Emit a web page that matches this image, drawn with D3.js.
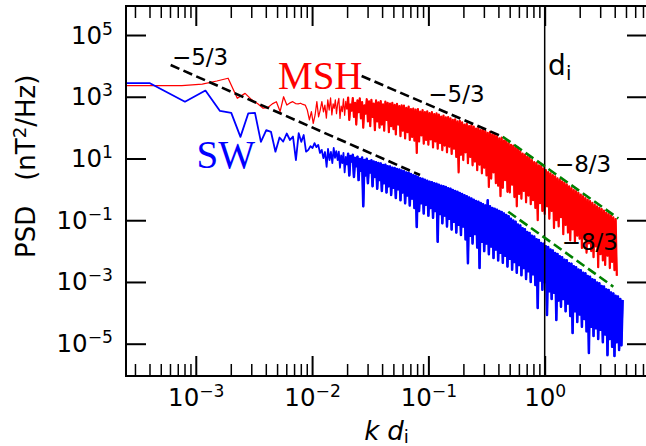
<!DOCTYPE html>
<html>
<head>
<meta charset="utf-8">
<script src="https://cdn.jsdelivr.net/npm/d3@7"></script>
<style>
  body { margin: 0; background: #fff; }
  svg { display: block; }
</style>
</head>
<body>
<svg id="chart" width="646" height="446"></svg>
<script>
// Magnetic-field power spectra, stored as [log10(k d_i), log10(PSD / nT^2 Hz^-1)].
// The first entry of each series is the k = 0 bin, which sits left of the axis.
const mshSpectrum = [
  [-3.80,3.36],[-3.421,3.36],[-3.120,3.36],[-2.944,3.41],[-2.819,3.51],[-2.722,3.60],[-2.643,2.95],[-2.576,3.11],
  [-2.518,2.90],[-2.467,2.77],[-2.421,2.63],[-2.380,2.65],[-2.342,2.77],[-2.307,2.84],[-2.275,2.52],[-2.245,3.00],
  [-2.217,2.73],[-2.191,2.80],[-2.166,2.84],[-2.142,2.78],[-2.120,2.77],[-2.099,2.79],[-2.079,2.75],[-2.059,2.73],
  [-2.041,2.57],[-2.023,2.25],[-2.006,2.52],[-1.990,2.14],[-1.974,2.41],[-1.959,2.84],[-1.944,2.35],[-1.930,2.57],
  [-1.916,2.84],[-1.902,2.51],[-1.890,2.73],[-1.877,2.31],[-1.865,2.90],[-1.853,2.57],[-1.841,2.96],[-1.830,2.41],
  [-1.819,2.77],
  [-1.81,2.62],[-1.80,2.90],[-1.79,2.45],[-1.78,2.78],[-1.77,2.95],[-1.76,2.30],[-1.75,2.70],[-1.74,2.52],[-1.73,2.93],[-1.72,2.40],
  [-1.71,2.85],[-1.70,2.60],[-1.69,2.97],[-1.68,2.25],[-1.67,2.75],[-1.66,2.55],[-1.65,2.96],[-1.64,2.35],[-1.63,2.80],[-1.62,2.10],
  [-1.61,2.88],[-1.60,2.50],[-1.59,2.95],[-1.58,2.30],[-1.57,2.83],[-1.56,2.00],[-1.55,2.72],[-1.54,2.45],[-1.53,2.92],[-1.52,2.20],
  [-1.51,2.85],[-1.50,2.05],[-1.49,2.90],[-1.48,2.35],[-1.47,2.78],[-1.46,1.92],[-1.45,2.88],[-1.44,2.20],[-1.43,2.82],[-1.42,2.00],
  [-1.41,2.86],[-1.40,2.10],[-1.39,2.75],[-1.38,1.90],[-1.37,2.84],[-1.36,2.25],[-1.35,2.80],[-1.34,1.85],[-1.33,2.78],[-1.32,2.05],
  [-1.31,2.80],[-1.30,1.95],[-1.29,2.74],[-1.28,1.78],[-1.27,2.77],[-1.26,2.10],[-1.25,2.70],[-1.24,1.72],[-1.23,2.72],[-1.22,1.90],
  [-1.21,2.71],[-1.20,1.65],[-1.19,2.64],[-1.18,1.85],[-1.17,2.68],[-1.16,1.60],[-1.15,2.60],[-1.14,1.70],[-1.13,2.62],[-1.12,1.58],
  [-1.11,2.58],[-1.10,1.18],[-1.09,2.60],[-1.08,1.55],[-1.07,2.52],[-1.06,1.75],[-1.05,2.57],[-1.04,1.48],[-1.03,2.50],[-1.02,1.60],
  [-1.01,2.53],[-1.00,1.45],[-0.99,2.47],[-0.98,1.62],[-0.97,2.50],[-0.96,1.36],[-0.95,2.44],[-0.94,1.55],[-0.93,2.46],[-0.92,1.32],
  [-0.91,2.42],[-0.90,1.50],[-0.89,2.36],[-0.88,1.27],[-0.87,2.39],[-0.86,1.42],[-0.85,2.33],[-0.84,1.20],[-0.83,2.34],[-0.82,1.38],
  [-0.81,2.30],[-0.80,1.15],[-0.79,2.25],[-0.78,1.32],[-0.77,2.27],[-0.76,1.05],[-0.75,2.20],[-0.74,0.55],[-0.73,2.22],[-0.72,1.12],
  [-0.71,2.17],[-0.70,0.95],[-0.69,2.10],[-0.68,1.20],[-0.67,2.13],[-0.66,0.85],[-0.65,2.05],[-0.64,1.05],[-0.63,2.08],[-0.62,0.78],
  [-0.61,2.03],[-0.60,0.90],[-0.59,1.97],[-0.58,0.62],[-0.57,2.00],[-0.56,0.80],[-0.55,1.92],[-0.54,0.52],[-0.53,1.95],[-0.52,0.70],
  [-0.51,1.89],[-0.50,0.45],[-0.49,1.83],[-0.48,0.08],[-0.47,1.86],[-0.46,0.35],[-0.45,1.78],[-0.44,0.55],[-0.43,1.80],[-0.42,0.20],
  [-0.41,1.72],[-0.40,0.12],[-0.39,1.65],[-0.38,-0.22],[-0.37,1.68],[-0.36,0.05],[-0.35,1.58],[-0.34,0.30],[-0.33,1.60],[-0.32,-0.08],
  [-0.31,1.50],[-0.30,-0.10],[-0.29,1.44],[-0.28,0.15],[-0.27,1.42],[-0.26,-0.25],[-0.25,1.36],[-0.24,-0.55],[-0.23,1.35],[-0.22,-0.15],
  [-0.21,1.24],[-0.20,-0.30],[-0.19,1.16],[-0.18,-0.05],[-0.17,1.13],[-0.16,-0.42],[-0.15,1.06],[-0.14,-0.20],[-0.13,1.04],[-0.12,-0.48],
  [-0.11,0.95],[-0.10,-0.35],[-0.09,0.88],[-0.08,-0.60],[-0.07,0.86],[-0.06,-1.00],[-0.05,0.78],[-0.04,-0.45],[-0.03,0.76],[-0.02,-0.70],
  [-0.01,0.68],[0.00,-0.80],[0.01,0.62],[0.02,-0.55],[0.03,0.56],[0.04,-0.95],[0.05,0.52],[0.06,-0.70],[0.07,0.46],[0.08,-1.25],
  [0.09,0.42],[0.10,-1.00],[0.11,0.36],[0.12,-1.20],[0.13,0.32],[0.14,-0.90],[0.15,0.26],[0.16,-1.45],[0.17,0.22],[0.18,-1.15],
  [0.19,0.16],[0.20,-1.40],[0.21,0.10],[0.22,-1.65],[0.23,0.04],[0.24,-1.30],[0.25,-0.02],[0.26,-1.72],[0.27,-0.06],[0.28,-1.50],
  [0.29,-0.11],[0.30,-1.60],[0.31,-0.17],[0.32,-1.90],[0.33,-0.22],[0.34,-1.55],[0.35,-0.28],[0.36,-2.05],[0.37,-0.33],[0.38,-1.75],
  [0.39,-0.38],[0.40,-2.00],[0.41,-0.44],[0.42,-2.20],[0.43,-0.49],[0.44,-1.85],[0.45,-0.55],[0.46,-2.52],[0.47,-0.60],[0.48,-2.10],
  [0.49,-0.64],[0.50,-2.30],[0.51,-0.69],[0.52,-2.45],[0.53,-0.75],[0.54,-2.15],[0.55,-0.80],[0.56,-2.55],[0.57,-0.84],[0.58,-2.35],
  [0.59,-0.91],[0.60,-2.62],[0.61,-0.96],[0.62,-2.80]
];

const swSpectrum = [
  [-3.80,3.44],[-3.394,3.44],[-3.093,2.84],[-2.917,3.20],[-2.792,2.54],[-2.695,2.48],[-2.616,1.70],[-2.549,2.46],
  [-2.491,2.48],[-2.440,1.54],[-2.394,1.92],[-2.353,1.86],[-2.315,1.22],[-2.280,1.68],[-2.248,1.55],[-2.218,1.81],
  [-2.190,1.60],[-2.164,1.71],[-2.139,0.95],[-2.115,1.82],[-2.093,1.54],[-2.072,1.76],[-2.052,1.22],[-2.032,1.28],
  [-2.014,1.40],[-1.996,1.34],[-1.979,1.50],[-1.963,1.37],[-1.947,1.44],[-1.932,1.18],[-1.917,1.28],[-1.903,1.01],
  [-1.889,1.21],[-1.875,0.73],[-1.863,1.31],[-1.850,0.95],[-1.838,1.21],[-1.826,0.85],[-1.814,1.34],[-1.803,1.02],
  [-1.792,1.24],
  [-1.78,0.95],[-1.77,1.22],[-1.76,0.70],[-1.75,1.10],[-1.74,0.85],[-1.73,1.18],[-1.72,0.55],[-1.71,1.05],[-1.70,0.80],[-1.69,1.15],
  [-1.68,0.45],[-1.67,1.08],[-1.66,0.90],[-1.65,1.12],[-1.64,0.40],[-1.63,1.02],[-1.62,0.75],[-1.61,1.06],[-1.60,0.30],[-1.59,0.98],
  [-1.58,0.60],[-1.57,1.03],[-1.56,-0.55],[-1.55,0.95],[-1.54,0.45],[-1.53,0.99],[-1.52,0.20],[-1.51,0.92],[-1.50,0.55],[-1.49,0.94],
  [-1.48,0.10],[-1.47,0.90],[-1.46,0.40],[-1.45,0.88],[-1.44,0.02],[-1.43,0.85],[-1.42,0.30],[-1.41,0.84],[-1.40,-0.05],[-1.39,0.79],
  [-1.38,0.20],[-1.37,0.80],[-1.36,-0.10],[-1.35,0.75],[-1.34,0.10],[-1.33,0.74],[-1.32,-0.18],[-1.31,0.70],[-1.30,0.05],[-1.29,0.69],
  [-1.28,-0.28],[-1.27,0.66],[-1.26,0.00],[-1.25,0.64],[-1.24,-0.35],[-1.23,0.61],[-1.22,-0.10],[-1.21,0.59],[-1.20,-0.45],[-1.19,0.55],
  [-1.18,-0.20],[-1.17,0.54],[-1.16,-0.52],[-1.15,0.50],[-1.14,-0.30],[-1.13,0.46],[-1.12,-0.60],[-1.11,0.44],[-1.10,-1.22],[-1.09,0.40],
  [-1.08,-0.70],[-1.07,0.36],[-1.06,-0.45],[-1.05,0.34],[-1.04,-0.78],[-1.03,0.31],[-1.02,-0.50],[-1.01,0.28],[-1.00,-0.85],[-0.99,0.25],
  [-0.98,-0.60],[-0.97,0.23],[-0.96,-0.92],[-0.95,0.20],[-0.94,-0.70],[-0.93,0.18],[-0.92,-1.70],[-0.91,0.15],[-0.90,-0.80],[-0.89,0.12],
  [-0.88,-1.10],[-0.87,0.10],[-0.86,-0.85],[-0.85,0.08],[-0.84,-1.20],[-0.83,0.04],[-0.82,-0.95],[-0.81,0.02],[-0.80,-1.30],[-0.79,-0.02],
  [-0.78,-1.05],[-0.77,-0.05],[-0.76,-1.40],[-0.75,-0.08],[-0.74,-1.15],[-0.73,-0.12],[-0.72,-1.48],[-0.71,-0.15],[-0.70,-1.20],[-0.69,-0.19],
  [-0.68,-1.62],[-0.67,-0.22],[-0.66,-2.39],[-0.65,-0.26],[-0.64,-1.50],[-0.63,-0.30],[-0.62,-1.75],[-0.61,-0.34],[-0.60,-1.45],[-0.59,-0.38],
  [-0.58,-1.88],[-0.57,-0.40],[-0.56,-2.55],[-0.55,-0.44],[-0.54,-1.70],[-0.53,-0.48],[-0.52,-2.00],[-0.51,-0.52],[-0.50,-1.75],[-0.49,-0.35],
  [-0.48,-2.10],[-0.47,-0.55],[-0.46,-1.85],[-0.45,-0.60],[-0.44,-2.22],[-0.43,-0.63],[-0.42,-1.95],[-0.41,-0.66],[-0.40,-2.30],[-0.39,-0.70],
  [-0.38,-2.05],[-0.37,-0.73],[-0.36,-2.38],[-0.35,-0.78],[-0.34,-2.15],[-0.33,-0.83],[-0.32,-2.50],[-0.31,-0.87],[-0.30,-2.25],[-0.29,-0.95],
  [-0.28,-2.60],[-0.27,-1.01],[-0.26,-2.35],[-0.25,-1.05],[-0.24,-2.70],[-0.23,-1.14],[-0.22,-2.45],[-0.21,-1.17],[-0.20,-2.78],[-0.19,-1.26],
  [-0.18,-2.55],[-0.17,-1.29],[-0.16,-2.90],[-0.15,-1.38],[-0.14,-2.65],[-0.13,-1.41],[-0.12,-3.00],[-0.11,-1.50],[-0.10,-2.75],[-0.09,-1.53],
  [-0.08,-3.10],[-0.07,-1.62],[-0.06,-3.84],[-0.05,-1.64],[-0.04,-2.95],[-0.03,-1.74],[-0.02,-3.25],[-0.01,-1.76],[0.00,-3.00],[0.01,-1.84],
  [0.02,-4.07],[0.03,-1.87],[0.04,-3.30],[0.05,-1.95],[0.06,-3.55],[0.07,-1.98],[0.08,-3.35],[0.09,-2.06],[0.10,-4.23],[0.11,-2.09],
  [0.12,-3.60],[0.13,-2.17],[0.14,-3.80],[0.15,-2.20],[0.16,-3.55],[0.17,-2.28],[0.18,-3.95],[0.19,-2.30],[0.20,-3.70],[0.21,-2.39],
  [0.22,-4.10],[0.23,-2.41],[0.24,-4.65],[0.25,-2.49],[0.26,-3.95],[0.27,-2.52],[0.28,-4.30],[0.29,-2.60],[0.30,-4.05],[0.31,-2.62],
  [0.32,-4.45],[0.33,-2.70],[0.34,-4.20],[0.35,-2.72],[0.36,-4.60],[0.37,-2.81],[0.38,-5.30],[0.39,-2.83],[0.40,-4.45],[0.41,-2.91],
  [0.42,-4.75],[0.43,-2.94],[0.44,-4.50],[0.45,-3.02],[0.46,-4.85],[0.47,-3.04],[0.48,-4.55],[0.49,-3.13],[0.50,-4.95],[0.51,-3.15],
  [0.52,-4.70],[0.53,-3.24],[0.54,-5.37],[0.55,-3.26],[0.56,-4.85],[0.57,-3.34],[0.58,-5.10],[0.59,-3.37],[0.60,-5.40],[0.61,-3.45],
  [0.62,-4.95],[0.63,-3.47],[0.64,-5.20],[0.65,-3.55],[0.66,-5.05],[0.67,-3.58]
];

// Power-law guides, endpoints as [k d_i, PSD]
const mshInertialFit = [[0.02667, 4699], [0.4355, 50.8]];     // slope -5/3
const mshKineticFit  = [[0.4355, 50.8], [4.295, 0.1153]];     // slope -8/3
const swInertialFit  = [[6.08e-4, 10666], [0.0847, 2.92]];    // slope -5/3
const swKineticFit   = [[0.486, 0.189], [3.89, 7.03e-4]];     // slope -8/3

// Slope annotations anchored at [k d_i, PSD]
const slopeLabels = ["−5/3", "−5/3", "−8/3", "−8/3"];
const slopeLabelAnchors = [[6.24e-4, 10666], [0.0998, 692], [1.226, 3.73], [1.40, 0.0108]];

// Region names and their anchors
const regionNames = ["MSH", "SW"];
const regionAnchors = [[5.09e-3, 1718], [1.014e-3, 4.81]];
const regionColors = ["#ff0000", "#0000ff"];

// Ion inertial length marker
const ionScaleK = 1;
const ionScaleAnchor = [1.07, 5058];

// Axes
const xDomain = [2.512e-4, 7.58];
const yDomain = [8.99e-7, 8.71e5];
const xMajorTicks = [1e-3, 1e-2, 1e-1, 1];
const xTickExponents = ["−3", "−2", "−1", "0"];
const yMajorTicks = [1e5, 1e3, 1e1, 1e-1, 1e-3, 1e-5];
const yTickExponents = ["5", "3", "1", "−1", "−3", "−5"];

const plot = { left: 126, right: 647, top: 6, bottom: 376 };
const sans = "'DejaVu Sans', sans-serif";

const svg = d3.select("#chart");
const x = d3.scaleLog().domain(xDomain).range([plot.left, plot.right]);
const y = d3.scaleLog().domain(yDomain).range([plot.bottom, plot.top]);

svg.append("defs").append("clipPath").attr("id", "plotArea")
  .append("rect")
  .attr("x", plot.left).attr("y", plot.top)
  .attr("width", plot.right - plot.left).attr("height", plot.bottom - plot.top);

const layer = svg.append("g").attr("clip-path", "url(#plotArea)");

// Spectra: the full trace with a thin pen, then the densely sampled
// high-k part again with a wider pen so that it reads as a solid band.
const spectrumLine = d3.line().x(d => x(10 ** d[0])).y(d => y(10 ** d[1]));
const denseFrom = -1.7;
function drawSpectrum(series, color, thin, wide) {
  layer.append("path").datum(series)
    .attr("d", spectrumLine).attr("fill", "none")
    .attr("stroke", color).attr("stroke-width", thin)
    .attr("stroke-linejoin", "round");
  layer.append("path").datum(series.filter(d => d[0] >= denseFrom))
    .attr("d", spectrumLine).attr("fill", "none")
    .attr("stroke", color).attr("stroke-width", wide)
    .attr("stroke-linejoin", "round");
}
drawSpectrum(mshSpectrum, regionColors[0], 1.25, 2.2);
drawSpectrum(swSpectrum, regionColors[1], 1.8, 2.5);

// k d_i = 1
layer.append("line")
  .attr("x1", x(ionScaleK)).attr("x2", x(ionScaleK))
  .attr("y1", plot.top).attr("y2", plot.bottom)
  .attr("stroke", "#000").attr("stroke-width", 1.5);

// Fit guides
const fitLine = d3.line().x(d => x(d[0])).y(d => y(d[1]));
[[mshInertialFit, "#000"], [swInertialFit, "#000"], [mshKineticFit, "#008000"], [swKineticFit, "#008000"]]
  .forEach(([pts, color]) => {
    layer.append("path").datum(pts)
      .attr("d", fitLine).attr("fill", "none")
      .attr("stroke", color).attr("stroke-width", 2.6)
      .attr("stroke-dasharray", "9.5,4.5");
  });

// Slope annotations
slopeLabels.forEach((txt, i) => {
  svg.append("text")
    .attr("x", x(slopeLabelAnchors[i][0])).attr("y", y(slopeLabelAnchors[i][1]))
    .attr("font-family", sans).attr("font-size", 23).attr("fill", "#000")
    .text(txt);
});

// Region names
regionNames.forEach((txt, i) => {
  svg.append("text")
    .attr("x", x(regionAnchors[i][0])).attr("y", y(regionAnchors[i][1]))
    .attr("font-family", "'Liberation Serif', 'Times New Roman', serif")
    .attr("font-size", 39).attr("fill", regionColors[i])
    .text(txt);
});

// d_i marker label
const diLabel = svg.append("text")
  .attr("x", x(ionScaleAnchor[0])).attr("y", y(ionScaleAnchor[1]))
  .attr("font-family", sans).attr("font-size", 28).attr("fill", "#000");
diLabel.append("tspan").text("d");
diLabel.append("tspan").attr("dy", 5).attr("font-size", "0.7em").text("i");

// Axes: ticks point inward on all four sides
function styleAxis(g, width) {
  g.select(".domain").remove();
  g.selectAll(".tick line").attr("stroke", "#000").attr("stroke-width", width);
  g.attr("font-family", sans);
}

const xMinorTicks = x.ticks().filter(t => {
  const e = Math.log10(t);
  return Math.abs(e - Math.round(e)) > 1e-6 && t >= xDomain[0] && t <= xDomain[1];
});

// bottom
svg.append("g").attr("transform", `translate(0,${plot.bottom})`)
  .call(d3.axisBottom(x).tickValues(xMinorTicks).tickSize(-12).tickFormat(() => ""))
  .call(g => styleAxis(g, 1.5));
const bottomMajor = svg.append("g").attr("transform", `translate(0,${plot.bottom})`)
  .call(d3.axisBottom(x).tickValues(xMajorTicks).tickSize(-20).tickFormat(() => ""))
  .call(g => styleAxis(g, 2));
bottomMajor.selectAll(".tick text").each(function (d, i) {
  const t = d3.select(this);
  t.attr("y", 29.7).attr("dy", null).attr("fill", "#000").attr("font-size", 24.5).text("10");
  t.append("tspan").attr("dy", -9).attr("font-size", "0.7em").text(xTickExponents[i]);
});

// top
svg.append("g").attr("transform", `translate(0,${plot.top})`)
  .call(d3.axisTop(x).tickValues(xMinorTicks).tickSize(-12).tickFormat(() => ""))
  .call(g => styleAxis(g, 1.5));
svg.append("g").attr("transform", `translate(0,${plot.top})`)
  .call(d3.axisTop(x).tickValues(xMajorTicks).tickSize(-20).tickFormat(() => ""))
  .call(g => styleAxis(g, 2));

// left
const leftAxis = svg.append("g").attr("transform", `translate(${plot.left},0)`)
  .call(d3.axisLeft(y).tickValues(yMajorTicks).tickSize(-20).tickFormat(() => ""))
  .call(g => styleAxis(g, 2));
leftAxis.selectAll(".tick text").each(function (d, i) {
  const t = d3.select(this);
  t.attr("x", -13).attr("y", 8).attr("dy", null).attr("fill", "#000").attr("font-size", 24.5).text("10");
  t.append("tspan").attr("dy", -9).attr("font-size", "0.7em").text(yTickExponents[i]);
});

// right
svg.append("g").attr("transform", `translate(${plot.right},0)`)
  .call(d3.axisRight(y).tickValues(yMajorTicks).tickSize(-20).tickFormat(() => ""))
  .call(g => styleAxis(g, 2));

// frame
svg.append("rect")
  .attr("x", plot.left).attr("y", plot.top)
  .attr("width", plot.right - plot.left).attr("height", plot.bottom - plot.top)
  .attr("fill", "none").attr("stroke", "#000").attr("stroke-width", 2);

// axis titles
const xTitle = svg.append("text")
  .attr("x", (plot.left + plot.right) / 2).attr("y", 439.5)
  .attr("text-anchor", "middle").attr("font-family", sans).attr("font-size", 26).attr("fill", "#000");
xTitle.append("tspan").attr("font-style", "italic").text("k");
xTitle.append("tspan").attr("font-style", "italic").attr("dx", 8).text("d");
xTitle.append("tspan").attr("dy", 3).attr("font-size", "0.7em").text("i");

const yTitle = svg.append("text")
  .attr("transform", "translate(35,258) rotate(-90)")
  .attr("font-family", sans).attr("font-size", 26).attr("fill", "#000");
yTitle.append("tspan").text("PSD");
yTitle.append("tspan").attr("dx", 25).text("(nT");
yTitle.append("tspan").attr("dy", -9).attr("font-size", "0.7em").text("2");
yTitle.append("tspan").attr("dy", 9).text("/Hz)");
</script>
</body>
</html>
